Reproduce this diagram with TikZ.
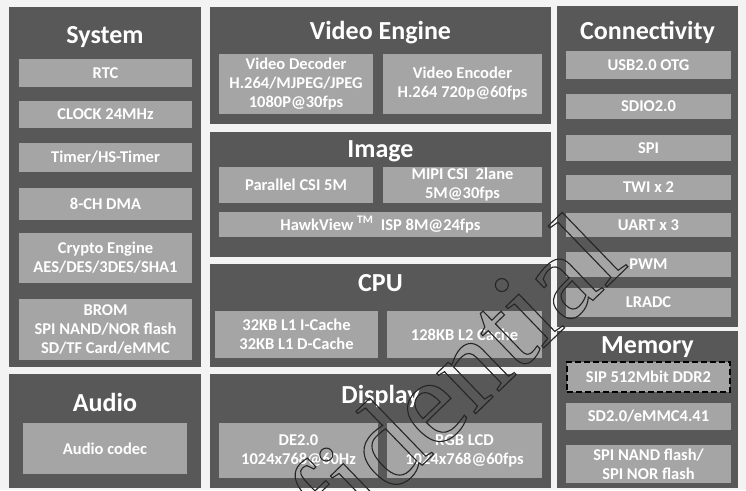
\documentclass[tikz,border=0pt]{standalone}
\usepackage{fontspec}
\setmainfont{Carlito}
\newfontfamily\markfont{Liberation Serif}
\definecolor{bggray}{HTML}{F3F3F3}
\definecolor{panelgray}{HTML}{585858}
\definecolor{unitgray}{HTML}{A5A5A5}
\definecolor{markgray}{HTML}{262626}

\begin{document}
\begin{tikzpicture}[x=1pt, y=-1pt,
  panel/.style={fill=panelgray, anchor=north west, inner sep=0pt, outer sep=0pt},
  title/.style={anchor=base, text=white, font=\fontsize{26}{30}\selectfont\bfseries},
  unit/.style={fill=unitgray, text=white, anchor=north west, inner sep=0pt, outer sep=0pt,
    align=center, font=\fontsize{16.5}{19}\selectfont\bfseries},
  sysunit/.style={unit, minimum width=173pt},
  conunit/.style={unit, minimum width=165pt}]
  \useasboundingbox (0,0) rectangle (746,490);
  \fill[bggray] (0,0) rectangle (746,490);

  % left column
  \node[panel, minimum width=192pt, minimum height=360pt] (system) at (9,7) {};
  \node[title] (systemtitle) at (105,43) {System};
  \node[sysunit, minimum height=28pt] (rtc) at (19,59) {RTC};
  \node[sysunit, minimum height=27pt] (clock) at (19,101) {CLOCK 24MHz};
  \node[sysunit, minimum height=29pt] (timer) at (19,143) {Timer/HS-Timer};
  \node[sysunit, minimum height=32pt] (dma) at (19,188) {8-CH DMA};
  \node[sysunit, minimum height=50pt] (crypto) at (19,233) {Crypto Engine\\AES/DES/3DES/SHA1};
  \node[sysunit, minimum height=61pt] (brom) at (19,299) {BROM\\SPI NAND/NOR flash\\SD/TF Card/eMMC};

  \node[panel, minimum width=192pt, minimum height=114pt] (audio) at (9,374) {};
  \node[title] (audiotitle) at (105,411) {Audio};
  \node[unit, minimum width=164pt, minimum height=51pt] (codec) at (23,423) {Audio codec};

  % middle column
  \node[panel, minimum width=341pt, minimum height=117pt] (video) at (210,7) {};
  \node[title] (videotitle) at (380.5,39) {Video Engine};
  \node[unit, minimum width=154pt, minimum height=60pt] (decoder) at (219,54) {Video Decoder\\H.264/MJPEG/JPEG\\1080P@30fps};
  \node[unit, minimum width=159pt, minimum height=60pt] (encoder) at (383,54) {Video Encoder\\H.264 720p@60fps};

  \node[panel, minimum width=341pt, minimum height=125pt] (image) at (210,132) {};
  \node[title] (imagetitle) at (380.5,157) {Image};
  \node[unit, minimum width=154pt, minimum height=36pt] (parallel) at (219,167) {Parallel CSI 5M};
  \node[unit, minimum width=159pt, minimum height=36pt] (mipi) at (383,167) {MIPI CSI\ \ 2lane\\5M@30fps};
  \node[unit, minimum width=323pt, minimum height=25pt] (isp) at (219,212) {HawkView \textsuperscript{TM}\ \ ISP 8M@24fps};

  \node[panel, minimum width=341pt, minimum height=103pt] (cpu) at (210,264) {};
  \node[title] (cputitle) at (380.5,291) {CPU};
  \node[unit, minimum width=163pt, minimum height=47pt] (lonecache) at (215,311) {32KB L1 I-Cache\\32KB L1 D-Cache};
  \node[unit, minimum width=155pt, minimum height=47pt] (ltwocache) at (387,311) {128KB L2 Cache};

  \node[panel, minimum width=341pt, minimum height=114pt] (display) at (210,374) {};
  \node[title] (displaytitle) at (380.5,403) {Display};
  \node[unit, minimum width=159pt, minimum height=55pt] (de) at (219,423) {DE2.0\\1024x768@60Hz};
  \node[unit, minimum width=155pt, minimum height=55pt] (lcd) at (387,423) {RGB LCD\\1024x768@60fps};

  % right column
  \node[panel, minimum width=181pt, minimum height=321pt] (connect) at (557,6) {};
  \node[title] (connecttitle) at (647.5,39) {Connectivity};
  \node[conunit, minimum height=28pt] (usb) at (566,51) {USB2.0 OTG};
  \node[conunit, minimum height=25pt] (sdio) at (566,94) {SDIO2.0};
  \node[conunit, minimum height=26pt] (spi) at (566,135) {SPI};
  \node[conunit, minimum height=25pt] (twi) at (566,175) {TWI x 2};
  \node[conunit, minimum height=24pt] (uart) at (566,213) {UART x 3};
  \node[conunit, minimum height=25pt] (pwm) at (566,252) {PWM};
  \node[conunit, minimum height=29pt] (lradc) at (566,288) {LRADC};

  \node[panel, minimum width=181pt, minimum height=157pt] (memory) at (557,331) {};
  \node[title] (memorytitle) at (647.5,353) {Memory};
  \node[unit, minimum width=163pt, minimum height=30pt, draw=black, line width=1.6pt,
    dash pattern=on 6pt off 3pt] (sip) at (567,362) {SIP 512Mbit DDR2};
  \node[conunit, minimum height=27pt] (sd) at (566,403) {SD2.0/eMMC4.41};
  \node[conunit, minimum height=38pt] (nand) at (566,445) {SPI NAND flash/\\SPI NOR flash};

  % watermark, outline letters only
  \begin{scope}
    \clip (0,0) rectangle (746,490);
    \node[rotate=44, anchor=base west, inner sep=0pt, text=markgray,
      font=\markfont\fontsize{122}{122}\selectfont] (mark) at (190.7,688.8)
      {\special{pdf:code 1 Tr 1.1 w}Confidential\special{pdf:code 0 Tr}};
  \end{scope}
\end{tikzpicture}
\end{document}
